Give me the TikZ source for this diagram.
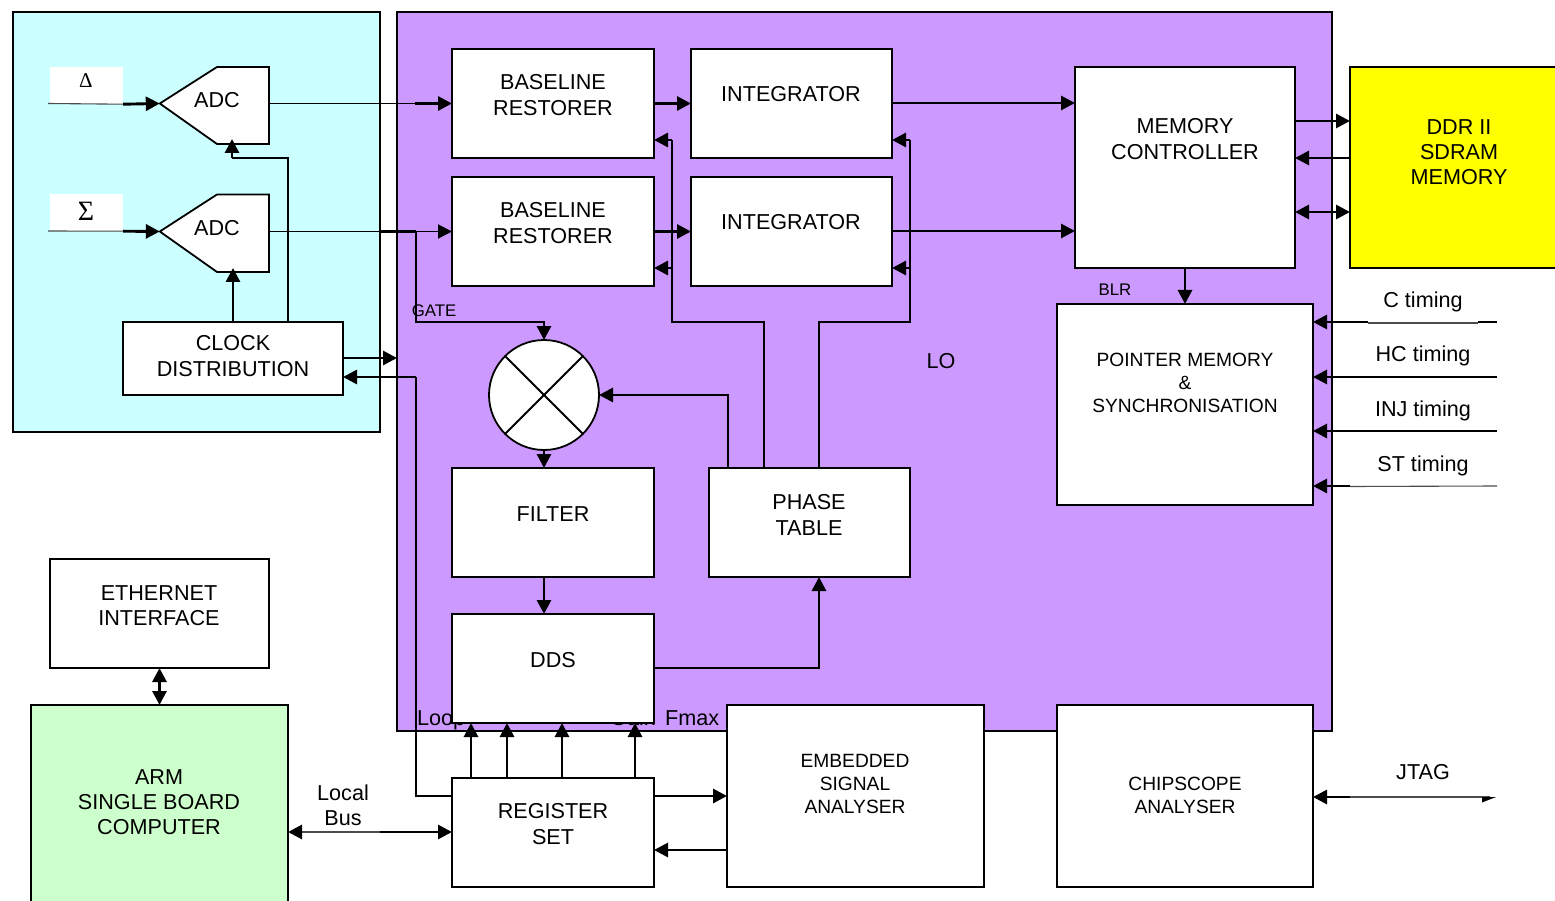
\documentclass[tikz,border=0pt]{standalone}
\usepackage{fontspec}
\setmainfont{Liberation Sans}
\newfontfamily\symfont{Liberation Serif}
\usetikzlibrary{arrows.meta}
\definecolor{cyanbg}{HTML}{CCFFFF}
\definecolor{purplebg}{HTML}{CC99FF}
\definecolor{greenbg}{HTML}{CCFFCC}
\definecolor{yellowbg}{HTML}{FFFF00}
\definecolor{inkc}{HTML}{000000}
\tikzset{
  x=1pt,y=-1pt,
  boxst/.style={draw=inkc,line width=1.8pt,fill=white,inner sep=0pt,outer sep=0pt},
  tl/.style={text=inkc,inner sep=0pt,align=center,font=\fontsize{21.6}{25.3}\selectfont},
  tm/.style={text=inkc,inner sep=0pt,align=center,font=\fontsize{19.2}{23}\selectfont},
  ts/.style={text=inkc,inner sep=0pt,align=center,font=\fontsize{16.8}{20}\selectfont},
  ln/.style={draw=inkc,line width=1.9pt},
  thk/.style={draw=inkc,line width=2.9pt},
  hair/.style={draw=inkc!70,line width=1.1pt},
  tip/.style={-{Triangle[length=14pt,width=14pt]}},
  tipr/.style={{Triangle[length=14pt,width=14pt]}-},
  tipb/.style={{Triangle[length=14pt,width=14pt]}-{Triangle[length=14pt,width=14pt]}},
}
\newcommand\bx[6][]{%
  \pgfmathsetmacro\bxw{#5-#3}\pgfmathsetmacro\bxh{#6-#4}%
  \pgfmathsetmacro\bxcx{(#3+#5)/2}\pgfmathsetmacro\bxcy{(#4+#6)/2}%
  \node[boxst,#1,minimum width=\bxw pt,minimum height=\bxh pt] (#2) at (\bxcx,\bxcy) {};}
\begin{document}
\begin{tikzpicture}
\useasboundingbox (0,0) rectangle (1555,901);
% background panels
\bx[fill=cyanbg]{cyanp}{13}{12}{380}{432}
\bx[fill=purplebg]{purp}{397}{12}{1332}{731}
\bx[fill=yellowbg]{ddr}{1350}{67}{1562}{268}
\bx[fill=greenbg]{arm}{31}{705}{288}{908}
% text partly hidden by DDS
\node[tl,anchor=base west] (loop) at (417,725) {Loop};
\node[tl,anchor=base west] (gain) at (610,725) {Gain};
\node[tl,anchor=base west] (fmax) at (665,725) {Fmax};
% boxes
\bx{bl1}{452}{49}{654}{158}
\bx{bl2}{452}{177}{654}{286}
\bx{int1}{691}{49}{892}{158}
\bx{int2}{691}{177}{892}{286}
\bx{mem}{1075}{67}{1295}{268}
\bx{ptr}{1057}{304}{1313}{505}
\bx{filt}{452}{468}{654}{577}
\bx{phase}{709}{468}{910}{577}
\bx{dds}{452}{614}{654}{723}
\bx{clk}{123}{322}{343}{395}
\bx{eth}{50}{559}{269}{668}
\bx{reg}{452}{778}{654}{887}
\bx{esa}{727}{705}{984}{887}
\bx{chip}{1057}{705}{1313}{887}
\node[fill=white,inner sep=0pt,minimum width=73pt,minimum height=37pt] (dlt) at (86.5,85.5) {};
\node[fill=white,inner sep=0pt,minimum width=73pt,minimum height=37pt] (sgm) at (86.5,212.5) {};
% ADC shapes
\node[inner sep=0pt,minimum width=109pt,minimum height=73pt] (adc1) at (214.5,103.5) {};
\node[inner sep=0pt,minimum width=109pt,minimum height=73pt] (adc2) at (214.5,231.5) {};
\draw[boxst] (adc1.west) -- (217,67) -- (269,67) -- (269,144) -- (217,144) -- cycle;
\draw[boxst] (adc2.west) -- (217,194.5) -- (269,194.5) -- (269,272) -- (217,272) -- cycle;
% mixer
\node[boxst,circle,minimum size=110pt] (mix) at (544,395) {};
\draw[ln] (mix.45) -- (mix.225);
\draw[ln] (mix.135) -- (mix.315);
% named free ends
\coordinate (gatecorner) at (416,231.5);
\coordinate (ctl) at (1497,322);
\coordinate (htl) at (1497,377);
\coordinate (itl) at (1497,431);
\coordinate (stl) at (1497,486);
\coordinate (jtl) at (1490,797);
% connectors: left block
\draw[hair] (48,103.5) -- (dlt.south east);
\draw[thk,tip] (dlt.south east) -- (adc1.west);
\draw[hair] (48,231) -- (sgm.south east);
\draw[thk,tip] (sgm.south east) -- (adc2.west);
\draw[ln] (clk.north) -- (233,290);
\draw[thk,tip] (233,290) -- (233,268);
\draw[ln] (clk.north -| 288,0) -- (288,158) -- (232,158);
\draw[thk,tip] (232,158) -- (232,139);
\draw[ln] (269,103.5) -- (415,103.5);
\draw[thk,tip] (415,103.5) -- (bl1.west);
\draw[ln,tip] (269,231.5) -- (bl2.west);
\draw[thk] (380,231.5) -- (416,231.5);
\draw[ln] (gatecorner) -- (416,322) -- (544,322);
\draw[thk,tip] (544,321) -- (mix.north);
\draw[thk,tip] (clk.east |- 0,358) -- (purp.west |- 0,358);
\draw[ln] (reg.west |- 0,796) -- (416,796) -- (416,377);
\draw[thk,tip] (416,377) -- (clk.east |- 0,377);
% baseline / integrator / memory
\draw[thk,tip] (bl1.east) -- (int1.west);
\draw[thk,tip] (bl2.east) -- (int2.west);
\draw[thk,tip] (int1.east |- 0,103) -- (mem.west |- 0,103);
\draw[thk,tip] (int2.east |- 0,231) -- (mem.west |- 0,231);
% phase table feedback
\draw[ln] (phase.north -| 764,0) -- (764,322) -- (672,322) -- (672,140);
\draw[thk,tip] (672,140) -- (bl1.east |- 0,140);
\draw[thk,tip] (672,268) -- (bl2.east |- 0,268);
\draw[ln] (phase.north -| 819,0) -- (819,322) -- (910,322) -- (910,140);
\draw[thk,tip] (910,140) -- (int1.east |- 0,140);
\draw[thk,tip] (910,268) -- (int2.east |- 0,268);
\draw[ln] (phase.north -| 728,0) -- (728,395) -- (625,395);
\draw[thk,tip] (625,395) -- (mix.east);
% mixer chain
\draw[thk,tip] (mix.south) -- (filt.north -| mix.south);
\draw[thk,tip] (filt.south -| 544,0) -- (dds.north -| 544,0);
\draw[ln] (dds.east |- 0,668) -- (819,668) -- (819,600);
\draw[thk,tip] (819,600) -- (phase.south -| 819,0);
% register set
\draw[thk,tip] (reg.north -| 471,0) -- (dds.south -| 471,0);
\draw[thk,tip] (reg.north -| 507,0) -- (dds.south -| 507,0);
\draw[thk,tip] (reg.north -| 562,0) -- (dds.south -| 562,0);
\draw[thk,tip] (reg.north -| 635,0) -- (dds.south -| 635,0);
\draw[thk,tip] (reg.east |- 0,796) -- (esa.west |- 0,796);
\draw[thk,tip] (esa.west |- 0,850) -- (reg.east |- 0,850);
\draw[thk,tipb] (eth.south) -- (arm.north);
\draw[hair] (300,832) -- (380,832);
\draw[thk,tipr] (arm.east |- 0,832) -- (302,832);
\draw[thk,tip] (380,832) -- (reg.west |- 0,832);
% memory
\draw[thk,tip] (mem.east |- 0,121) -- (ddr.west |- 0,121);
\draw[thk,tip] (ddr.west |- 0,158) -- (mem.east |- 0,158);
\draw[thk,tipb] (mem.east |- 0,212) -- (ddr.west |- 0,212);
\draw[thk,tip] (mem.south -| 1185,0) -- (ptr.north -| 1185,0);
% timing inputs
\draw[thk,tip] (1368,322) -- (ptr.east |- 0,322);
\draw[hair] (1368,323) -- (1478,323);
\draw[thk] (1478,322) -- (ctl);
\draw[hair,line width=1.5pt,draw=inkc] (htl) -- (1350,377);
\draw[thk,tip] (1350,377) -- (ptr.east |- 0,377);
\draw[thk,tip] (itl) -- (ptr.east |- 0,431);
\draw[hair] (stl) -- (1350,486.5);
\draw[thk,tip] (1350,486) -- (ptr.east |- 0,486);
\draw[hair] (jtl) -- (1350,797);
\draw[thk,tip] (1350,797) -- (chip.east |- 0,797);
\fill[inkc] (1482,797) -- (1496,797) -- (1482,802.5) -- cycle;
% labels
\node[text=inkc,font=\symfont\fontsize{21}{25}\selectfont,inner sep=0pt] (dltt) at (86,81) {Δ};
\node[text=inkc,font=\symfont\fontsize{28}{32}\selectfont,inner sep=0pt] (sgmt) at (86,211) {Σ};
\node[tl] (adc1t) at (217,100) {ADC};
\node[tl] (adc2t) at (217,228) {ADC};
\node[tl] (clkt) at (233,356) {CLOCK\\DISTRIBUTION};
\node[tl] (bl1t) at (553,95) {BASELINE\\RESTORER};
\node[tl] (bl2t) at (553,223) {BASELINE\\RESTORER};
\node[tl] (int1t) at (791,94) {INTEGRATOR};
\node[tl] (int2t) at (791,222) {INTEGRATOR};
\node[tl] (memt) at (1185,139) {MEMORY\\CONTROLLER};
\node[tl] (ddrt) at (1459,152) {DDR II\\SDRAM\\MEMORY};
\node[tm] (ptrt) at (1185,383) {POINTER MEMORY\\\&\\SYNCHRONISATION};
\node[tl] (filtt) at (553,514) {FILTER};
\node[tl] (phaset) at (809,515) {PHASE\\TABLE};
\node[tl] (ddst) at (553,660) {DDS};
\node[tl] (etht) at (159,606) {ETHERNET\\INTERFACE};
\node[tl] (armt) at (159,802) {ARM\\SINGLE BOARD\\COMPUTER};
\node[tl] (regt) at (553,824) {REGISTER\\SET};
\node[tm] (esat) at (855,784) {EMBEDDED\\SIGNAL\\ANALYSER};
\node[tm] (chipt) at (1185,795) {CHIPSCOPE\\ANALYSER};
\node[ts] (gate) at (434,311) {GATE};
\node[ts] (blr) at (1115,290) {BLR};
\node[tl] (lo) at (941,361) {LO};
\node[tl] (lbus) at (343,805) {Local\\Bus};
\node[tl] (ct) at (1423,302) {C timing};
\node[tl] (ht) at (1423,356) {HC timing};
\node[tl] (it) at (1423,411) {INJ timing};
\node[tl] (st) at (1423,466) {ST timing};
\node[tl] (jt) at (1423,772) {JTAG};
\end{tikzpicture}
\end{document}
